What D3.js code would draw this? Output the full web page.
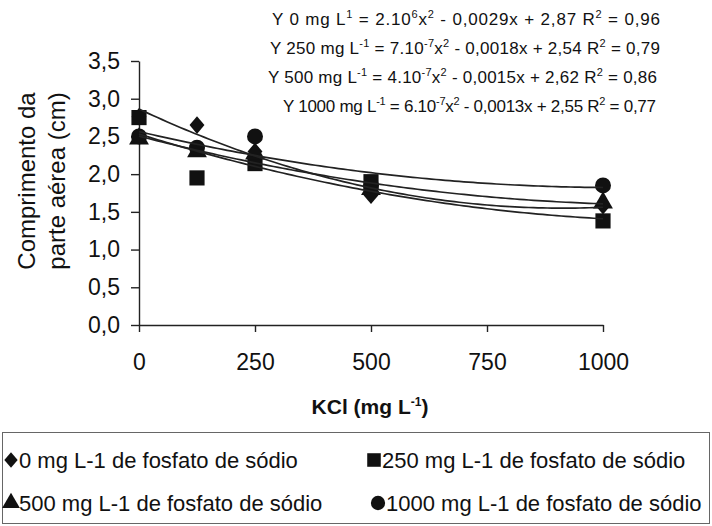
<!DOCTYPE html>
<html>
<head>
<meta charset="utf-8">
<script src="https://cdn.jsdelivr.net/npm/d3@7"></script>
<style>
  body { margin: 0; background: #fff; }
  svg { font-family: "Liberation Sans", Arial, sans-serif; }
</style>
</head>
<body>
<svg id="chart" width="712" height="526"></svg>
<script>
// KCl doses (mg L-1)
const doses = [0, 125, 250, 500, 1000];

// shoot length (cm) per sodium phosphate level
const fosf0 = [2.76, 2.65, 2.30, 1.72, 1.58];
const fosf250 = [2.75, 1.95, 2.14, 1.90, 1.38];
const fosf500 = [2.47, 2.30, 2.27, 1.80, 1.62];
const fosf1000 = [2.50, 2.35, 2.50, 1.85, 1.85];

const seriesNames = [
    '0 mg L-1 de fosfato de sódio',
    '250 mg L-1 de fosfato de sódio',
    '500 mg L-1 de fosfato de sódio',
    '1000 mg L-1 de fosfato de sódio'
];

const xTicks = [0, 250, 500, 750, 1000];
const yTicks = [0, 0.5, 1, 1.5, 2, 2.5, 3, 3.5];

const allSeries = [fosf0, fosf250, fosf500, fosf1000];

// diamond a bit wider than d3's own
const wideDiamond = {
    draw: function(ctx, size) {
        let h = Math.sqrt(size) * 0.62;
        let w = h * 0.85;
        ctx.moveTo(0, -h);
        ctx.lineTo(w, 0);
        ctx.lineTo(0, h);
        ctx.lineTo(-w, 0);
        ctx.closePath();
    }
};
const symbols = [wideDiamond, d3.symbolSquare, d3.symbolTriangle, d3.symbolCircle];
const symbolSizes = [200, 230, 170, 200];

const svg = d3.select('#chart');

const x = d3.scaleLinear().domain([0, 1000]).range([139, 603]);
const y = d3.scaleLinear().domain([0, 3.5]).range([325, 61]);

const fmt = d => d3.format('.1f')(d).replace('.', ',');

// y axis
let yAxis = svg.append('g')
    .attr('transform', 'translate(139,0)')
    .call(d3.axisLeft(y).tickValues(yTicks).tickFormat(fmt).tickSize(8).tickSizeOuter(0).tickPadding(11));
yAxis.selectAll('text').style('font-size', '23px').attr('fill', '#111');
yAxis.selectAll('line, path').attr('stroke', '#222').attr('stroke-width', 1.4);

// x axis
let xAxis = svg.append('g')
    .attr('transform', 'translate(0,325)')
    .call(d3.axisBottom(x).tickValues(xTicks).tickFormat(d3.format('d')).tickSize(7).tickSizeOuter(0).tickPadding(22));
xAxis.selectAll('text').style('font-size', '23px').attr('fill', '#111');
xAxis.selectAll('line, path').attr('stroke', '#222').attr('stroke-width', 1.4);

// axis titles
let yTitle = svg.append('text')
    .attr('transform', 'translate(35,181) rotate(-90)')
    .attr('text-anchor', 'middle')
    .style('font-size', '24px')
    .attr('fill', '#111');
yTitle.append('tspan').attr('x', 0).attr('dy', 0).text('Comprimento da');
yTitle.append('tspan').attr('x', 0).attr('dy', 30).text('parte aérea (cm)');

let xTitle = svg.append('text')
    .attr('x', 370).attr('y', 414)
    .attr('text-anchor', 'middle')
    .style('font-size', '21px')
    .style('font-weight', 'bold')
    .attr('fill', '#111');
xTitle.append('tspan').text('KCl (mg L');
xTitle.append('tspan').attr('dy', -8).style('font-size', '12px').text('-1');
xTitle.append('tspan').attr('dy', 8).text(')');

// markers
allSeries.forEach(function(vals, s) {
    svg.append('g')
        .selectAll('path')
        .data(vals)
        .enter().append('path')
        .attr('d', d3.symbol().type(symbols[s]).size(symbolSizes[s]))
        .attr('transform', function(d, i) { return 'translate(' + x(doses[i]) + ',' + y(d) + ')'; })
        .attr('fill', '#111');
});

// quadratic least squares trendline
function quadFit(xs, ys) {
    let n = xs.length;
    let s = [0, 0, 0, 0, 0], t = [0, 0, 0];
    for (let i = 0; i < n; i++) {
        for (let k = 0; k < 5; k++) s[k] += Math.pow(xs[i], k);
        for (let k = 0; k < 3; k++) t[k] += ys[i] * Math.pow(xs[i], k);
    }
    let m = [[s[0], s[1], s[2], t[0]], [s[1], s[2], s[3], t[1]], [s[2], s[3], s[4], t[2]]];
    for (let c = 0; c < 3; c++) {
        for (let r = c + 1; r < 3; r++) {
            let f = m[r][c] / m[c][c];
            for (let k = c; k < 4; k++) m[r][k] -= f * m[c][k];
        }
    }
    let coef = [0, 0, 0];
    for (let r = 2; r >= 0; r--) {
        let v = m[r][3];
        for (let k = r + 1; k < 3; k++) v -= m[r][k] * coef[k];
        coef[r] = v / m[r][r];
    }
    return coef;
}

const line = d3.line().x(d => x(d[0])).y(d => y(d[1]));
allSeries.forEach(function(vals) {
    let c = quadFit(doses, vals);
    let pts = d3.range(0, 1001, 10).map(v => [v, c[0] + c[1] * v + c[2] * v * v]);
    svg.append('path')
        .attr('d', line(pts))
        .attr('fill', 'none')
        .attr('stroke', '#222')
        .attr('stroke-width', 1.7);
});

// equations
const eqs = [
    {x: 272, y: 25, w: 388, parts: [['Y 0 mg L', 0], ['1', 1], [' = 2.10', 0], ['6', 1], ['x', 0], ['2', 1], [' - 0,0029x + 2,87  R', 0], ['2', 1], [' = 0,96', 0]]},
    {x: 270, y: 54, w: 390, parts: [['Y 250 mg L', 0], ['-1', 1], [' = 7.10', 0], ['-7', 1], ['x', 0], ['2', 1], [' - 0,0018x + 2,54  R', 0], ['2', 1], [' = 0,79', 0]]},
    {x: 268, y: 83, w: 389, parts: [['Y 500 mg L', 0], ['-1', 1], [' = 4.10', 0], ['-7', 1], ['x', 0], ['2', 1], [' - 0,0015x + 2,62  R', 0], ['2', 1], [' = 0,86', 0]]},
    {x: 283, y: 112, w: 373, parts: [['Y 1000 mg L', 0], ['-1', 1], [' = 6.10', 0], ['-7', 1], ['x', 0], ['2', 1], [' - 0,0013x + 2,55 R', 0], ['2', 1], [' = 0,77', 0]]}
];
eqs.forEach(function(eq) {
    let t = svg.append('text')
        .attr('x', eq.x).attr('y', eq.y)
        .attr('textLength', eq.w)
        .attr('lengthAdjust', 'spacing')
        .style('font-size', '17px')
        .attr('fill', '#111');
    let up = 0;
    eq.parts.forEach(function(p) {
        let ts = t.append('tspan').text(p[0]);
        if (p[1] && !up) { ts.attr('dy', -7).style('font-size', '11px'); up = 1; }
        else if (p[1]) { ts.style('font-size', '11px'); }
        else if (up) { ts.attr('dy', 7); up = 0; }
    });
});

// legend
svg.append('rect')
    .attr('x', 2.5).attr('y', 432.5)
    .attr('width', 707).attr('height', 91)
    .attr('fill', 'none')
    .attr('stroke', '#666')
    .attr('stroke-width', 1);

const legendPos = [[11, 460], [374, 460], [11, 503], [378, 503]];
seriesNames.forEach(function(name, s) {
    let p = legendPos[s];
    svg.append('path')
        .attr('d', d3.symbol().type(symbols[s]).size(symbolSizes[s] * 0.8))
        .attr('transform', 'translate(' + p[0] + ',' + p[1] + ')')
        .attr('fill', '#111');
    svg.append('text')
        .attr('x', p[0] + 8).attr('y', p[1] + 8)
        .style('font-size', '22px')
        .attr('fill', '#111')
        .text(name);
});
</script>
</body>
</html>
